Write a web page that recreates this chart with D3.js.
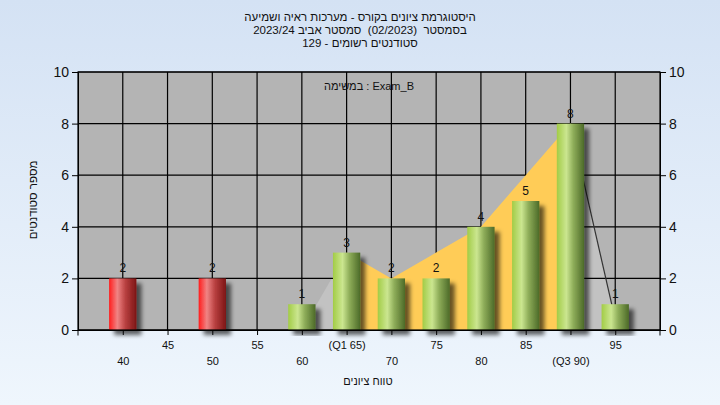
<!DOCTYPE html>
<html><head><meta charset="utf-8">
<script src="https://cdnjs.cloudflare.com/ajax/libs/d3/7.8.5/d3.min.js"></script>
<style>
html,body{margin:0;padding:0;}
body{width:720px;height:405px;overflow:hidden;font-family:"Liberation Sans",Arial,sans-serif;}
text{white-space:pre;}
</style></head><body>
<svg id="chart" width="720" height="405"></svg>
<script>
// ---- data ----
const titleLines = ["היסטוגרמת ציונים בקורס - מערכות ראיה ושמיעה",
                    "בסמסטר  (02/2023)  סמסטר אביב 2023/24",
                    "סטודנטים רשומים - 129"];
const taskLabel = "במשימה : Exam_B";
const xTitle = "טווח ציונים";
const yTitle = "מספר סטודנטים";
const categories = [40,45,50,55,60,65,70,75,80,85,90,95];
const tickLabels = ["40","45","50","55","60","(Q1 65)","70","75","80","85","(Q3 90)","95"];
const counts     = [2,0,2,0,1,3,2,2,4,5,8,1];
const failing    = [true,true,true,true,false,false,false,false,false,false,false,false];
const areaX      = [60,65,70,75,80,85,90,95];
const areaY      = [0,3,2,3,4,6,8,0.4];
const yTicks = [0,2,4,6,8,10];

// ---- layout ----
const svg = d3.select("#chart");
const L=78, R=660, T=72, B=330;
const x = d3.scaleLinear().domain([35,100]).range([L,R]);
const y = d3.scaleLinear().domain([0,10]).range([B,T]);
const defs = svg.append("defs");

const bg = defs.append("linearGradient").attr("id","bg").attr("x1",0).attr("y1",0).attr("x2",0).attr("y2",1);
bg.append("stop").attr("offset","0%").attr("stop-color","#d4e2f4");
bg.append("stop").attr("offset","100%").attr("stop-color","#eff6fd");
svg.append("rect").attr("width",720).attr("height",405).attr("fill","url(#bg)");

function cyl(id, stops){
  const g = defs.append("linearGradient").attr("id",id).attr("x1",0).attr("y1",0).attr("x2",1).attr("y2",0);
  stops.forEach(s=>g.append("stop").attr("offset",s[0]).attr("stop-color",s[1]));
}
cyl("gGreen",[["0%","#a2cc46"],["35%","#cbe690"],["60%","#8fae5a"],["100%","#4c6a28"]]);
cyl("gRed",[["0%","#ff1c1c"],["30%","#f08484"],["60%","#b84040"],["100%","#7c1414"]]);

const sh = defs.append("filter").attr("id","shadow").attr("x","-30%").attr("y","-10%").attr("width","180%").attr("height","130%");
sh.append("feDropShadow").attr("dx",5).attr("dy",5).attr("stdDeviation",2.2).attr("flood-color","#000").attr("flood-opacity",0.6);

// plot background
svg.append("rect").attr("x",L).attr("y",T).attr("width",R-L).attr("height",B-T).attr("fill","#b4b4b4");

// light gray area segments (below gridlines)
const areaPts = areaX.map((v,i)=>[v,areaY[i]]);
const areaGen = d3.area().x(d=>x(d[0])).y0(y(0)).y1(d=>y(d[1]));
svg.append("path").datum(areaPts.slice(0,2)).attr("d",areaGen).attr("fill","#c2c2c2");
svg.append("path").datum(areaPts.slice(6,8)).attr("d",areaGen).attr("fill","#c2c2c2");

// gridlines
const grid = svg.append("g").attr("stroke","#000").attr("stroke-width",1.2);
grid.selectAll("line.h").data(yTicks).join("line")
  .attr("x1",L).attr("x2",R).attr("y1",d=>y(d)).attr("y2",d=>y(d));
grid.selectAll("line.v").data(categories).join("line")
  .attr("x1",d=>x(d)).attr("x2",d=>x(d)).attr("y1",T).attr("y2",B);

// yellow area
svg.append("path").datum(areaPts.slice(1,7)).attr("d",areaGen).attr("fill","#ffcc57");
// dark edge of last segment
svg.append("path").datum(areaPts.slice(6,8))
  .attr("d",d3.line().x(d=>x(d[0])).y(d=>y(d[1])))
  .attr("stroke","#333").attr("stroke-width",1.2).attr("fill","none");

// bars
const bw = 27.3;
const barData = categories.map((c,i)=>({c, v:counts[i], f:failing[i]})).filter(d=>d.v>0);
svg.append("g").selectAll("rect").data(barData).join("rect")
  .attr("x",d=>x(d.c)-bw/2).attr("width",bw)
  .attr("y",d=>y(d.v)).attr("height",d=>y(0)-y(d.v))
  .attr("fill",d=>d.f?"url(#gRed)":"url(#gGreen)")
  .attr("filter","url(#shadow)");

// bar value labels
svg.append("g").selectAll("text").data(barData).join("text")
  .attr("x",d=>x(d.c)).attr("y",d=>y(d.v)-6)
  .attr("text-anchor","middle").attr("font-size",12).attr("fill","#111")
  .text(d=>d.v);

// border
svg.append("rect").attr("x",L).attr("y",T).attr("width",R-L).attr("height",B-T)
  .attr("fill","none").attr("stroke","#000").attr("stroke-width",1.2);

// axes
const yl = svg.append("g").attr("transform",`translate(${L},0)`)
  .call(d3.axisLeft(y).tickValues(yTicks).tickSize(6).tickPadding(3));
const yr = svg.append("g").attr("transform",`translate(${R},0)`)
  .call(d3.axisRight(y).tickValues(yTicks).tickSize(6).tickPadding(3));
[yl,yr].forEach(g=>{
  g.select(".domain").attr("stroke","#000");
  g.selectAll(".tick line").attr("stroke","#000");
  g.selectAll("text").attr("font-size",14).attr("font-family","Liberation Sans, Arial, sans-serif").attr("fill","#111");
});
const xa = svg.append("g").attr("transform",`translate(0,${B})`)
  .call(d3.axisBottom(x).tickValues(categories).tickSize(5).tickFormat((d,i)=>tickLabels[i]));
xa.select(".domain").attr("d",`M${L},0.5V5.5M${L},0.5H${R}M${R},0.5V5.5`).attr("stroke","#000");
xa.selectAll(".tick line").attr("stroke","#000");
xa.selectAll("text").attr("font-size",11).attr("font-family","Liberation Sans, Arial, sans-serif").attr("fill","#111")
  .attr("y",(d,i)=> i%2===1 ? 11 : 27).attr("dy","0.71em");

// titles
svg.append("g").selectAll("text").data(titleLines).join("text")
  .attr("x",360).attr("y",(d,i)=>21+i*12.8)
  .attr("text-anchor","middle").attr("direction","rtl").attr("font-size",11.5).attr("fill","#111")
  .text(d=>d);
svg.append("text").attr("x",369).attr("y",90).attr("text-anchor","middle").attr("direction","ltr")
  .attr("font-size",11).attr("fill","#111").text(taskLabel);
svg.append("text").attr("x",368).attr("y",385).attr("text-anchor","middle").attr("direction","rtl")
  .attr("font-size",11).attr("fill","#111").text(xTitle);
svg.append("text").attr("transform","translate(37,200) rotate(-90)").attr("text-anchor","middle").attr("direction","rtl")
  .attr("font-size",11.5).attr("fill","#111").text(yTitle);
</script>
</body></html>
